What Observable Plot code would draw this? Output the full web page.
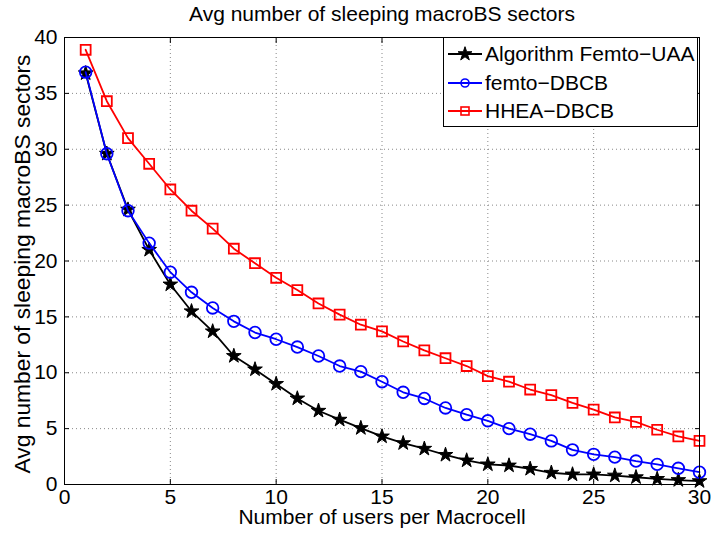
<!DOCTYPE html>
<html><head><meta charset="utf-8">
<script src="https://cdn.jsdelivr.net/npm/d3@7"></script>
<script src="https://cdn.jsdelivr.net/npm/@observablehq/plot@0.6"></script>
<style>
body{margin:0;background:#fff;}
#wrap{position:relative;width:712px;height:535px;font-family:"Liberation Sans",Arial,Helvetica,sans-serif;}
#legend{position:absolute;left:443px;top:37px;width:253px;height:88px;border:1.5px solid #000;background:#fff;}
#legend .row{position:absolute;left:0;height:28px;display:flex;align-items:center;font-size:21px;white-space:nowrap;}
#legend svg{display:block;margin-left:4px;margin-right:3px;}
</style>
</head><body>
<div id="wrap"></div>
<script>
const users = [1,2,3,4,5,6,7,8,9,10,11,12,13,14,15,16,17,18,19,20,21,22,23,24,25,26,27,28,29,30];
const femtoUAA = [36.8,29.6,24.6,21.0,17.9,15.5,13.7,11.5,10.3,9.0,7.7,6.6,5.8,5.05,4.3,3.7,3.2,2.65,2.15,1.8,1.7,1.4,1.05,0.9,0.9,0.8,0.65,0.5,0.4,0.3];
const femtoDBCB = [36.9,29.6,24.5,21.6,19.0,17.2,15.8,14.6,13.6,13.0,12.3,11.5,10.6,10.1,9.2,8.25,7.7,6.85,6.25,5.7,5.0,4.5,3.9,3.1,2.7,2.45,2.1,1.8,1.45,1.1];
const hheaDBCB = [38.9,34.3,31.0,28.7,26.4,24.5,22.9,21.1,19.8,18.5,17.4,16.2,15.2,14.3,13.7,12.8,12.0,11.3,10.6,9.7,9.2,8.5,8.0,7.3,6.7,6.0,5.6,4.9,4.3,3.9];
const seriesNames = ["Algorithm Femto\u2212UAA","femto\u2212DBCB","HHEA\u2212DBCB"];
const seriesColors = ["#000000","#0000ff","#ff0000"];
const seriesSymbols = ["star","circle","square"];
const xTicks = [0,5,10,15,20,25,30];
const yTicks = [0,5,10,15,20,25,30,35,40];
const title = "Avg number of sleeping macroBS sectors";
const xLabel = "Number of users per Macrocell";
const yLabel = "Avg number of sleeping macroBS sectors";

const seriesValues = [femtoUAA, femtoDBCB, hheaDBCB];
const tables = seriesValues.map(vals => users.map((u,i) => ({x:u, y:vals[i]})));

const seriesMarks = [];
tables.forEach((t,k) => {
  seriesMarks.push(Plot.line(t,{x:"x",y:"y",stroke:seriesColors[k],strokeWidth:1.8}));
  if (seriesSymbols[k]==="star") {
    seriesMarks.push(Plot.dot(t,{x:"x",y:"y",symbol:"star",r:4.6,fill:"#000",stroke:"#000",strokeWidth:1}));
  } else if (seriesSymbols[k]==="circle") {
    seriesMarks.push(Plot.dot(t,{x:"x",y:"y",symbol:"circle",r:5.8,fill:"none",stroke:seriesColors[k],strokeWidth:1.8}));
  } else {
    seriesMarks.push(Plot.dot(t,{x:"x",y:"y",symbol:"square",r:5.6,fill:"none",stroke:seriesColors[k],strokeWidth:1.8}));
  }
});

const font = "Liberation Sans, Arial, Helvetica, sans-serif";
const plot = Plot.plot({
  width:712, height:535,
  marginLeft:64, marginRight:13, marginTop:37, marginBottom:51,
  style:{fontFamily:font, fontSize:"21px", background:"white", color:"black", overflow:"visible"},
  x:{domain:[0,30]},
  y:{domain:[0,40]},
  marks:[
    Plot.gridX(xTicks.slice(1,-1),{stroke:"#888",strokeOpacity:1,strokeDasharray:"1,3",strokeWidth:1}),
    Plot.gridY(yTicks.slice(1,-1),{stroke:"#888",strokeOpacity:1,strokeDasharray:"1,3",strokeWidth:1}),
    ...seriesMarks,
    Plot.frame({stroke:"#000",strokeWidth:1}),
    Plot.axisX(xTicks,{anchor:"bottom",tickSize:-5,tickPadding:10,label:null,fontSize:21}),
    Plot.axisX(xTicks,{anchor:"top",tickSize:-5,tickFormat:()=>"",label:null}),
    Plot.axisY(yTicks,{anchor:"left",tickSize:-5,tickPadding:12,label:null,fontSize:21}),
    Plot.axisY(yTicks,{anchor:"right",tickSize:-5,tickFormat:()=>"",label:null}),
    Plot.text([title],{frameAnchor:"top",lineAnchor:"middle",textAnchor:"middle",dy:-23.7,text:d=>d,fontSize:21}),
    Plot.text([xLabel],{frameAnchor:"bottom",lineAnchor:"middle",textAnchor:"middle",dy:32.3,text:d=>d,fontSize:21}),
    Plot.text([yLabel],{frameAnchor:"left",lineAnchor:"middle",textAnchor:"middle",dx:-42,dy:3,rotate:-90,text:d=>d,fontSize:22.8})
  ]
});
const wrap = document.getElementById("wrap");
wrap.appendChild(plot);

// legend
const legend = document.createElement("div");
legend.id = "legend";
seriesNames.forEach((name,k) => {
  const row = document.createElement("div");
  row.className = "row";
  row.style.top = (2 + k*28.5) + "px";
  let marker;
  if (seriesSymbols[k]==="star") marker = `<path transform="translate(17,14)" d="${d3.symbol(d3.symbolStar,60)()}" fill="#000" stroke="#000"/>`;
  else if (seriesSymbols[k]==="circle") marker = `<circle cx="17" cy="14" r="4" fill="none" stroke="${seriesColors[k]}" stroke-width="1.6"/>`;
  else marker = `<rect x="13" y="10" width="8" height="8" fill="none" stroke="${seriesColors[k]}" stroke-width="1.6"/>`;
  row.innerHTML = `<svg width="34" height="28"><line x1="0" x2="34" y1="14" y2="14" stroke="${seriesColors[k]}" stroke-width="1.8"/>${marker}</svg><span>${name}</span>`;
  legend.appendChild(row);
});
wrap.appendChild(legend);
</script>
</body></html>
